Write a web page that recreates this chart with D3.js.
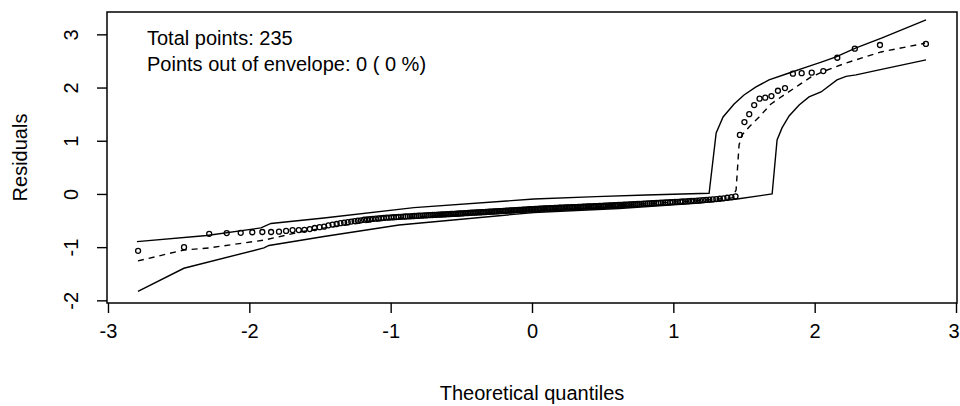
<!DOCTYPE html>
<html>
<head>
<meta charset="utf-8">
<script src="https://cdn.jsdelivr.net/npm/d3@7"></script>
<style>
  body { margin: 0; background: #fff; }
  text { font-family: "Liberation Sans", Arial, sans-serif; fill: #000; }
</style>
</head>
<body>
<svg id="plot" width="960" height="406"></svg>
<script>
// theoretical normal quantiles (x), one per observation
var theoQ = [
  -2.787,-2.462,-2.284,-2.160,-2.061,-1.979,-1.908,-1.846,-1.790,-1.740,
  -1.694,-1.650,-1.610,-1.572,-1.537,-1.503,-1.471,-1.440,-1.411,-1.382,
  -1.355,-1.329,-1.304,-1.279,-1.255,-1.232,-1.210,-1.188,-1.167,-1.146,
  -1.126,-1.106,-1.086,-1.067,-1.049,-1.030,-1.012,-0.995,-0.977,-0.960,
  -0.944,-0.927,-0.911,-0.895,-0.879,-0.863,-0.848,-0.833,-0.818,-0.803,
  -0.789,-0.774,-0.760,-0.746,-0.732,-0.718,-0.704,-0.690,-0.677,-0.664,
  -0.650,-0.637,-0.624,-0.611,-0.598,-0.586,-0.573,-0.561,-0.548,-0.536,
  -0.524,-0.512,-0.500,-0.488,-0.476,-0.464,-0.452,-0.441,-0.429,-0.417,
  -0.406,-0.394,-0.383,-0.371,-0.360,-0.349,-0.337,-0.326,-0.315,-0.304,
  -0.293,-0.282,-0.270,-0.259,-0.248,-0.237,-0.226,-0.215,-0.204,-0.193,
  -0.182,-0.171,-0.160,-0.150,-0.139,-0.128,-0.117,-0.107,-0.096,-0.085,
  -0.075,-0.064,-0.053,-0.043,-0.032,-0.021,-0.011, 0.000,
  0.011,0.021,0.032,0.043,0.053,0.064,0.075,
  0.085,0.096,0.107,0.117,0.128,0.139,0.150,0.160,0.171,0.182,
  0.193,0.204,0.215,0.226,0.237,0.248,0.259,0.270,0.282,0.293,
  0.304,0.315,0.326,0.337,0.349,0.360,0.371,0.383,0.394,0.406,
  0.417,0.429,0.441,0.452,0.464,0.476,0.488,0.500,0.512,0.524,
  0.536,0.548,0.561,0.573,0.586,0.598,0.611,0.624,0.637,0.650,
  0.664,0.677,0.690,0.704,0.718,0.732,0.746,0.760,0.774,0.789,
  0.803,0.818,0.833,0.848,0.863,0.879,0.895,0.911,0.927,0.944,
  0.960,0.977,0.995,1.012,1.030,1.049,1.067,1.086,1.106,1.126,
  1.146,1.167,1.188,1.210,1.232,1.255,1.279,1.304,1.329,1.355,
  1.382,1.411,1.440,1.471,1.503,1.537,1.572,1.610,1.650,1.694,
  1.740,1.790,1.846,1.908,1.979,2.061,2.160,2.284,2.462,2.787
];

// sorted residuals (y)
var residuals = [
  -1.07,-1.00,-0.75,-0.735,-0.73,-0.72,-0.715,-0.715,-0.71,-0.695,
  -0.68,-0.68,-0.675,-0.66,-0.64,-0.625,-0.615,-0.59,-0.575,-0.565,
  -0.55,-0.54,-0.53,-0.52,-0.51,-0.50,-0.495,-0.485,-0.48,-0.475,
  -0.47,-0.465,-0.46,-0.455,-0.45,-0.447,-0.444,-0.441,-0.438,-0.435,
  -0.432,-0.43,-0.427,-0.424,-0.422,-0.42,-0.418,-0.415,-0.413,-0.41,
  -0.408,-0.406,-0.404,-0.402,-0.40,-0.398,-0.396,-0.394,-0.392,-0.39,
  -0.388,-0.386,-0.385,-0.383,-0.381,-0.379,-0.377,-0.375,-0.373,-0.372,
  -0.37,-0.368,-0.366,-0.364,-0.362,-0.36,-0.358,-0.356,-0.354,-0.352,
  -0.35,-0.349,-0.347,-0.346,-0.344,-0.342,-0.341,-0.339,-0.337,-0.335,
  -0.333,-0.332,-0.33,-0.328,-0.327,-0.325,-0.323,-0.322,-0.32,-0.318,
  -0.316,-0.315,-0.313,-0.311,-0.31,-0.308,-0.306,-0.304,-0.302,-0.30,
  -0.298,-0.297,-0.295,-0.293,-0.291,-0.289,-0.288,-0.286,-0.285,-0.283,
  -0.282,-0.28,-0.278,-0.277,-0.275,-0.274,-0.272,-0.271,-0.27,-0.268,
  -0.266,-0.265,-0.264,-0.262,-0.261,-0.26,-0.259,-0.258,-0.256,-0.255,
  -0.253,-0.252,-0.251,-0.25,-0.249,-0.248,-0.246,-0.245,-0.244,-0.242,
  -0.24,-0.239,-0.238,-0.236,-0.235,-0.234,-0.232,-0.231,-0.23,-0.228,
  -0.226,-0.225,-0.223,-0.222,-0.22,-0.219,-0.217,-0.216,-0.214,-0.212,
  -0.21,-0.208,-0.207,-0.205,-0.203,-0.201,-0.20,-0.198,-0.196,-0.193,
  -0.19,-0.189,-0.187,-0.185,-0.183,-0.181,-0.179,-0.177,-0.175,-0.172,
  -0.17,-0.168,-0.166,-0.163,-0.161,-0.158,-0.156,-0.153,-0.151,-0.148,
  -0.145,-0.142,-0.139,-0.136,-0.132,-0.129,-0.125,-0.121,-0.116,-0.112,
  -0.108,-0.103,-0.097,-0.09,-0.082,-0.072,-0.06,-0.045,
  1.11,1.35,1.50,1.67,1.79,1.81,1.84,1.94,1.99,2.26,2.27,2.28,2.31,2.56,2.73,2.80,2.82
];

// simulated envelope: [quantile, residual] vertices
var envUpper = [
  [-2.795,-0.897],[-2.300,-0.780],[-1.918,-0.639],[-1.847,-0.555],[-1.472,-0.451],
  [-0.835,-0.258],[0.014,-0.094],[0.453,-0.051],[0.807,-0.019],[1.253,0.013],
  [1.303,1.147],[1.352,1.447],[1.430,1.692],[1.500,1.861],[1.585,2.011],
  [1.677,2.143],[1.819,2.274],[1.946,2.387],[2.052,2.481],[2.151,2.575],
  [2.293,2.744],[2.477,2.932],[2.788,3.271]
];
var envMedian = [
  [-2.788,-1.259],[-2.463,-1.053],[-2.286,-1.015],[-1.890,-0.865],[-1.650,-0.72],
  [-1.437,-0.625],[-0.941,-0.455],[0.014,-0.295],[0.616,-0.215],[1.182,-0.125],
  [1.415,-0.075],[1.444,0.075],[1.465,0.921],[1.486,1.109],[1.536,1.259],
  [1.607,1.447],[1.691,1.692],[1.783,1.861],[1.890,2.049],[1.975,2.199],
  [2.052,2.293],[2.222,2.462],[2.470,2.669],[2.781,2.833]
];
var envLower = [
  [-2.788,-1.833],[-2.463,-1.397],[-1.897,-1.015],[-1.861,-0.968],[-1.472,-0.799],
  [-0.941,-0.583],[0.014,-0.348],[0.616,-0.273],[1.182,-0.169],[1.451,-0.094],
  [1.699,0.0],[1.734,1.015],[1.769,1.241],[1.819,1.466],[1.890,1.673],
  [1.960,1.823],[2.045,1.917],[2.158,2.143],[2.222,2.209],[2.293,2.237],
  [2.456,2.331],[2.788,2.519]
];

var xTicks = [-3, -2, -1, 0, 1, 2, 3];
var yTicks = [-2, -1, 0, 1, 2, 3];
var legendLines = ["Total points: 235", "Points out of envelope: 0 ( 0 %)"];

function drawPlot() {
  var svg = d3.select("#plot");
  var left = 107, right = 957, top = 12, bottom = 303;

  var x = d3.scaleLinear().domain([-3.007, 3.007]).range([left, right]);
  var y = d3.scaleLinear().domain([-2.05, 3.42]).range([bottom, top]);

  var line = d3.line()
    .x(function(d) { return x(d[0]); })
    .y(function(d) { return y(d[1]); });

  // envelope
  svg.append("path").attr("d", line(envUpper))
    .attr("fill", "none").attr("stroke", "#000").attr("stroke-width", 1.4);
  svg.append("path").attr("d", line(envLower))
    .attr("fill", "none").attr("stroke", "#000").attr("stroke-width", 1.4);
  svg.append("path").attr("d", line(envMedian))
    .attr("fill", "none").attr("stroke", "#000").attr("stroke-width", 1.4)
    .attr("stroke-dasharray", "6,5");

  // points
  var pts = theoQ.map(function(q, i) { return [q, residuals[i]]; });
  svg.append("g").selectAll("circle").data(pts).enter().append("circle")
    .attr("cx", function(d) { return x(d[0]); })
    .attr("cy", function(d) { return y(d[1]); })
    .attr("r", 2.5)
    .attr("fill", "none")
    .attr("stroke", "#000")
    .attr("stroke-width", 1.3);

  // box
  svg.append("rect")
    .attr("x", left).attr("y", top)
    .attr("width", right - left).attr("height", bottom - top)
    .attr("fill", "none").attr("stroke", "#000").attr("stroke-width", 1.5);

  // axes (R style: plain hyphen minus)
  var fmt = function(d) { return String(d); };

  var xAxis = svg.append("g").attr("transform", "translate(0," + bottom + ")")
    .call(d3.axisBottom(x).tickValues(xTicks).tickSize(10).tickSizeOuter(0)
      .tickFormat(fmt));
  xAxis.select(".domain").remove();
  xAxis.selectAll("line").attr("stroke-width", 1.4);
  xAxis.selectAll("text").attr("y", 35).attr("dy", null)
    .style("font-size", "20px").attr("font-family", null);
  // last label sits on the window edge: keep it inside
  xAxis.selectAll("text").filter(function(d) { return d === 3; })
    .attr("text-anchor", "end").attr("x", 3);

  var yAxis = svg.append("g").attr("transform", "translate(" + left + ",0)")
    .call(d3.axisLeft(y).tickValues(yTicks).tickSize(10).tickSizeOuter(0)
      .tickFormat(fmt));
  yAxis.select(".domain").remove();
  yAxis.selectAll("line").attr("stroke-width", 1.4);
  yAxis.selectAll("text")
    .attr("transform", "rotate(-90)")
    .attr("x", 0).attr("y", -29).attr("dy", null)
    .attr("text-anchor", "middle")
    .style("font-size", "20px").attr("font-family", null);

  svg.append("text").attr("x", (left + right) / 2).attr("y", 400)
    .attr("text-anchor", "middle").style("font-size", "20px")
    .text("Theoretical quantiles");
  svg.append("text").attr("transform", "translate(27," + (top + bottom) / 2 + ") rotate(-90)")
    .attr("text-anchor", "middle").style("font-size", "20px")
    .text("Residuals");

  svg.selectAll(".legend").data(legendLines).enter().append("text")
    .attr("class", "legend")
    .attr("x", 147)
    .attr("y", function(d, i) { return 45 + i * 26; })
    .style("font-size", "20px")
    .text(function(d) { return d; });
}

drawPlot();
</script>
</body>
</html>
